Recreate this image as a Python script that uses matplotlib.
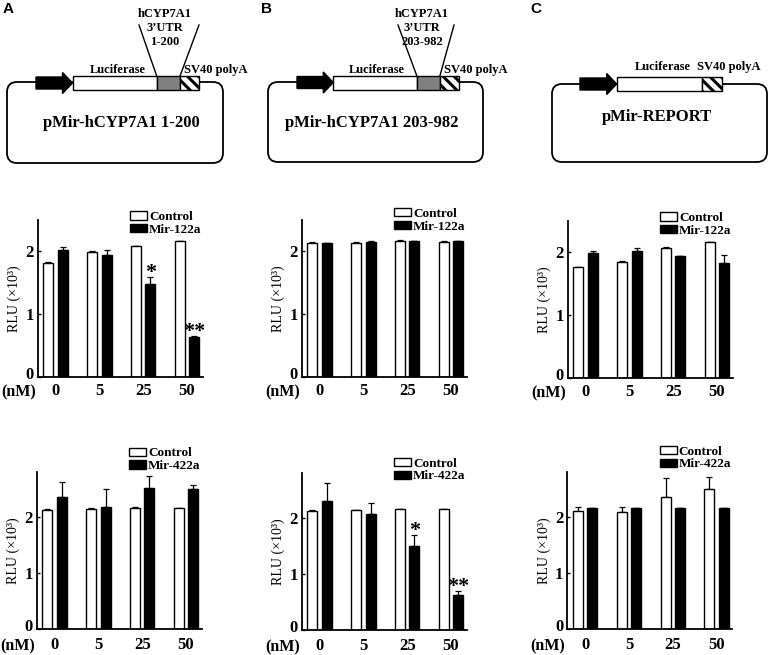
import numpy as np
import matplotlib.pyplot as plt
import matplotlib.transforms as mtransforms
from matplotlib.patches import FancyBboxPatch, Rectangle, Polygon

plt.rcParams['font.family'] = ['Liberation Serif', 'DejaVu Serif']
plt.rcParams['font.weight'] = 'bold'
plt.rcParams['hatch.linewidth'] = 2.2

# dose groups
doses = ['0', '5', '25', '50']

# panel A, Mir-122a
a_ctrl_122 = [1.82, 1.99, 2.08, 2.16]
a_ctrl_122_err = [0.01, 0.01, 0.01, 0.0]
a_mir_122 = [2.03, 1.94, 1.48, 0.64]
a_mir_122_err = [0.04, 0.09, 0.11, 0.01]
a_stars_122 = ['', '', '*', '**']

# panel B, Mir-122a
b_ctrl_122 = [2.14, 2.14, 2.17, 2.15]
b_ctrl_122_err = [0.01, 0.01, 0.01, 0.01]
b_mir_122 = [2.13, 2.15, 2.16, 2.16]
b_mir_122_err = [0.0, 0.01, 0.01, 0.01]

# panel C, Mir-122a
c_ctrl_122 = [1.76, 1.85, 2.07, 2.16]
c_ctrl_122_err = [0.01, 0.01, 0.02, 0.0]
c_mir_122 = [1.99, 2.03, 1.94, 1.83]
c_mir_122_err = [0.04, 0.04, 0.01, 0.13]

# panel A, Mir-422a
a_ctrl_422 = [2.13, 2.14, 2.16, 2.15]
a_ctrl_422_err = [0.01, 0.01, 0.01, 0.0]
a_mir_422 = [2.36, 2.17, 2.52, 2.50]
a_mir_422_err = [0.27, 0.33, 0.2, 0.06]

# panel B, Mir-422a
b_ctrl_422 = [2.13, 2.14, 2.16, 2.15]
b_ctrl_422_err = [0.01, 0.0, 0.0, 0.01]
b_mir_422 = [2.30, 2.07, 1.49, 0.63]
b_mir_422_err = [0.33, 0.19, 0.2, 0.06]
b_stars_422 = ['', '', '*', '**']

# panel C, Mir-422a
c_ctrl_422 = [2.10, 2.09, 2.36, 2.50]
c_ctrl_422_err = [0.08, 0.08, 0.34, 0.21]
c_mir_422 = [2.15, 2.15, 2.16, 2.16]
c_mir_422_err = [0.0, 0.0, 0.0, 0.0]

W, H = 769, 655
fig = plt.figure(figsize=(W / 100, H / 100), dpi=100)

# overlay for the vector diagrams (pixel coordinates)
ov = fig.add_axes([0, 0, 1, 1])
ov.set_xlim(0, W)
ov.set_ylim(H, 0)
ov.axis('off')
ov.patch.set_alpha(0)


def vector(x0, x1, ytop, ybot, ax0, ax1, yc, edges, gray, name, name_xy,
           luc_xy, sv_xy, insert=None):
    ov.add_patch(FancyBboxPatch((x0, ytop), x1 - x0, ybot - ytop,
                                boxstyle='round,pad=0,rounding_size=10',
                                fc='none', ec='black', lw=1.3))
    hb = ax1 - 10
    ov.add_patch(Polygon([(ax0, yc - 6), (hb, yc - 6), (hb, yc - 10.5), (ax1, yc),
                          (hb, yc + 10.5), (hb, yc + 6), (ax0, yc + 6)],
                         closed=True, fc='black', ec='black', lw=1))
    bh = 7
    e = edges
    ov.add_patch(Rectangle((e[0], yc - bh), e[1] - e[0], 2 * bh, fc='white', ec='black', lw=1))
    if gray:
        ov.add_patch(Rectangle((e[1], yc - bh), e[2] - e[1], 2 * bh, fc='#808080', ec='black', lw=1))
    ov.add_patch(Rectangle((e[-2], yc - bh), e[-1] - e[-2], 2 * bh, fc='white', ec='black',
                           lw=1, hatch='\\\\\\'))
    ov.text(*luc_xy, 'Luciferase', ha='center', va='center', fontsize=9)
    ov.text(*sv_xy, 'SV40 polyA', ha='center', va='center', fontsize=9)
    ov.text(*name_xy, name, ha='center', va='center', fontsize=12)
    if insert:
        cx, lines, lx, rx = insert
        for i, t in enumerate(lines):
            ov.text(cx, 14 + 14 * i, t, ha='center', va='center', fontsize=9)
        ov.plot([e[1], lx], [yc - bh, 25], color='black', lw=1)
        ov.plot([e[2], rx], [yc - bh, 25], color='black', lw=1)


vector(7, 223, 82, 163, 36, 72.5, 83, [72.5, 156.7, 180, 199.3], True,
       'pMir-hCYP7A1 1-200', (121, 123), (118, 70), (216, 70),
       (165, ['hCYP7A1', '3’UTR', '1-200'], 139, 199))
vector(268, 483, 82, 162, 297, 333.3, 82.5, [333.3, 416.7, 440, 459], True,
       'pMir-hCYP7A1 203-982', (372, 123), (377, 70), (476, 70),
       (422, ['hCYP7A1', '3’UTR', '203-982'], 398, 454))
vector(552, 767, 84, 162, 580, 616.7, 84, [616.7, 701.7, 721.7], False,
       'pMir-REPORT', (657, 117), (663, 67), (729, 67))

for lab, x in zip(['A', 'B', 'C'], [8, 267, 536]):
    ov.text(x, 9, lab, ha='center', va='center', fontsize=11,
            family='Liberation Sans', weight='bold')

n = np.arange(len(doses))
off, bw = 0.165, 0.23


def bars(left_px, top_px, ctrl, ctrl_err, mir, mir_err, mir_label, ymax, leg_y,
         xpad, stars=None):
    ax = fig.add_axes([left_px / W, 1 - (top_px + 157) / H, 165 / W, 157 / H])
    ax.bar(n - off, ctrl, bw, color='white', edgecolor='black', lw=1, zorder=2)
    ax.bar(n + off, mir, bw, color='black', edgecolor='black', lw=1, zorder=2)
    z = np.zeros(len(n))
    ax.errorbar(n - off, ctrl, yerr=[z, ctrl_err], fmt='none', ecolor='black',
                elinewidth=0.9, capsize=2.5, capthick=0.9, zorder=1)
    ax.errorbar(n + off, mir, yerr=[z, mir_err], fmt='none', ecolor='black',
                elinewidth=0.9, capsize=2.5, capthick=0.9, zorder=1)
    if stars:
        for xi, v, er, s in zip(n + off, mir, mir_err, stars):
            if s:
                ax.annotate(s, (xi, v + er), xytext=(0, 3), textcoords='offset points',
                            ha='center', va='center', fontsize=16)
    ax.set_xlim(-0.41, 3.36)
    ax.set_ylim(0, ymax)
    ax.set_yticks([0, 1, 2])
    ax.set_xticks(n)
    ax.set_xticklabels(doses)
    ax.tick_params(axis='x', length=0, labelsize=12, pad=xpad)
    ax.tick_params(axis='y', length=2.5, direction='in', width=1, labelsize=12, pad=3)
    # the "0" on the value axis sits a little above the baseline
    lab0 = ax.get_yticklabels()[0]
    lab0.set_transform(lab0.get_transform() +
                       mtransforms.ScaledTranslation(0, 3 / 72, fig.dpi_scale_trans))
    for sp in ['top', 'right']:
        ax.spines[sp].set_visible(False)
    for sp in ['left', 'bottom']:
        ax.spines[sp].set_linewidth(1.3)
    ax.set_ylabel('RLU (×10³)', fontsize=10, labelpad=3)
    ax.annotate('(nM)', (0, 0), xycoords='axes fraction', xytext=(-14, -xpad - 1.5),
                textcoords='offset points', ha='center', va='top', fontsize=11.5)
    h = [Rectangle((0, 0), 1, 1, fc='white', ec='black', lw=1),
         Rectangle((0, 0), 1, 1, fc='black', ec='black', lw=1)]
    ax.legend(h, ['Control', mir_label], loc='lower left', bbox_to_anchor=(0.56, leg_y),
              frameon=False, handlelength=1.3, handleheight=0.6, handletextpad=0.15,
              labelspacing=0.05, borderpad=0, borderaxespad=0, prop={'size': 9.5, 'weight': 'bold'})
    return ax


bars(37.7, 220, a_ctrl_122, a_ctrl_122_err, a_mir_122, a_mir_122_err, 'Mir-122a', 2.5, 0.90, 4, a_stars_122)
bars(301.7, 220, b_ctrl_122, b_ctrl_122_err, b_mir_122, b_mir_122_err, 'Mir-122a', 2.5, 0.92, 4)
bars(567.7, 221, c_ctrl_122, c_ctrl_122_err, c_mir_122, c_mir_122_err, 'Mir-122a', 2.5, 0.90, 4)
bars(36.7, 472, a_ctrl_422, a_ctrl_422_err, a_mir_422, a_mir_422_err, 'Mir-422a', 2.8, 1.0, 5.5)
bars(301.7, 473, b_ctrl_422, b_ctrl_422_err, b_mir_422, b_mir_422_err, 'Mir-422a', 2.8, 0.94, 5.5, b_stars_422)
bars(567.3, 472, c_ctrl_422, c_ctrl_422_err, c_mir_422, c_mir_422_err, 'Mir-422a', 2.8, 1.01, 5.5)

fig.savefig('out.png', dpi=100)
